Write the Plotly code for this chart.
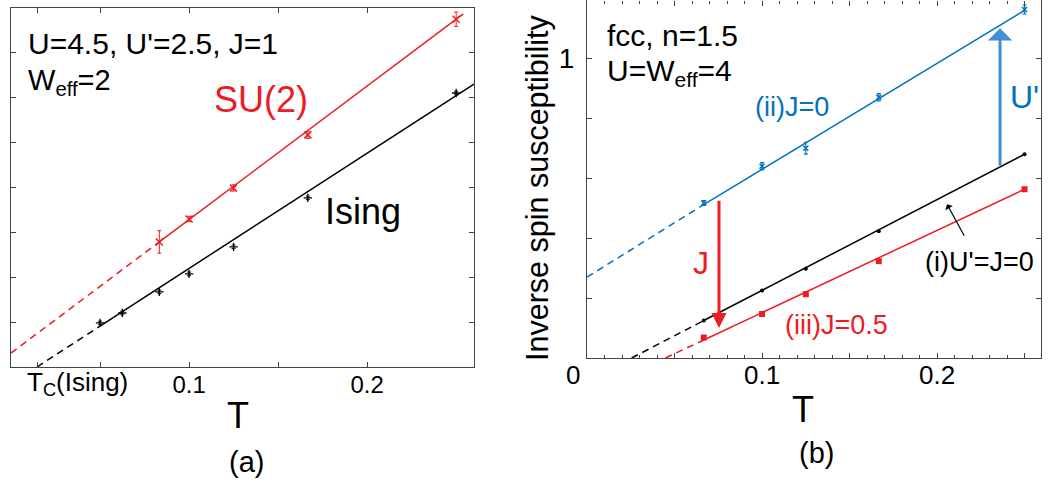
import plotly.graph_objects as go

# ---------------- Panel (a) data ----------------
T_a_su2 = [0.0833, 0.1, 0.125, 0.1667, 0.25]
chi_a_su2 = [0.278, 0.329, 0.398, 0.516, 0.773]
err_a_su2 = [0.025, 0.006, 0.007, 0.008, 0.016]

T_a_ising = [0.05, 0.0625, 0.0833, 0.1, 0.125, 0.1667, 0.25]
chi_a_ising = [0.098, 0.12, 0.167, 0.207, 0.267, 0.376, 0.609]
err_a_ising = [0.004, 0.004, 0.004, 0.004, 0.004, 0.004, 0.004]

fit_a_su2_dash_T = [0.0, 0.0833]
fit_a_su2_dash_v = [0.031, 0.278]
fit_a_su2_T = [0.0833, 0.254]
fit_a_su2_v = [0.278, 0.785]

Tc_ising = 0.0146
fit_a_ising_dash_T = [0.0146, 0.05]
fit_a_ising_dash_v = [0.0, 0.091]
fit_a_ising_T = [0.05, 0.26]
fit_a_ising_v = [0.091, 0.629]

# ---------------- Panel (b) data ----------------
T_b = [0.0667, 0.1, 0.125, 0.1667, 0.25]
chi_b_i = [0.125, 0.225, 0.298, 0.423, 0.68]
chi_b_ii = [0.517, 0.64, 0.70, 0.87, 1.163]
err_b_ii = [0.008, 0.012, 0.02, 0.012, 0.015]
chi_b_iii = [0.068, 0.147, 0.213, 0.323, 0.563]

fit_b_ii_dash_T = [0.0, 0.0667]
fit_b_ii_dash_v = [0.270, 0.512]
fit_b_ii_T = [0.0667, 0.25]
fit_b_ii_v = [0.512, 1.16]

fit_b_i_dash_T = [0.0255, 0.0667]
fit_b_i_dash_v = [0.0, 0.125]
fit_b_i_T = [0.0667, 0.25]
fit_b_i_v = [0.125, 0.68]

fit_b_iii_dash_T = [0.0448, 0.0667]
fit_b_iii_dash_v = [0.0, 0.06]
fit_b_iii_T = [0.0667, 0.25]
fit_b_iii_v = [0.06, 0.563]

RED = "#ed1c24"
BLUE = "#0072bd"
BLUE_ARROW = "#3f8fd2"
FONT = "Liberation Sans, Arial, sans-serif"
DASH = "7px,5px"

fig = go.Figure()

# ---- panel (a) traces ----
fig.add_trace(go.Scatter(x=fit_a_su2_dash_T, y=fit_a_su2_dash_v, mode="lines",
                         line=dict(color=RED, width=1.5, dash=DASH), xaxis="x", yaxis="y"))
fig.add_trace(go.Scatter(x=fit_a_su2_T, y=fit_a_su2_v, mode="lines",
                         line=dict(color=RED, width=1.5), xaxis="x", yaxis="y"))
fig.add_trace(go.Scatter(x=fit_a_ising_dash_T, y=fit_a_ising_dash_v, mode="lines",
                         line=dict(color="black", width=1.5, dash=DASH), xaxis="x", yaxis="y"))
fig.add_trace(go.Scatter(x=fit_a_ising_T, y=fit_a_ising_v, mode="lines",
                         line=dict(color="black", width=1.5), xaxis="x", yaxis="y"))
fig.add_trace(go.Scatter(x=T_a_su2, y=chi_a_su2, mode="markers",
                         marker=dict(symbol="x-thin", size=7, line=dict(color=RED, width=1.5)),
                         error_y=dict(type="data", array=err_a_su2, color=RED, thickness=1, width=2),
                         xaxis="x", yaxis="y"))
fig.add_trace(go.Scatter(x=T_a_ising, y=chi_a_ising, mode="markers",
                         marker=dict(symbol="cross-thin", size=6, line=dict(color="black", width=1.3)),
                         error_y=dict(type="data", array=err_a_ising, color="black", thickness=1, width=2),
                         xaxis="x", yaxis="y"))

# ---- panel (b) traces ----
for dT, dv, sT, sv, col in [
    (fit_b_ii_dash_T, fit_b_ii_dash_v, fit_b_ii_T, fit_b_ii_v, BLUE),
    (fit_b_i_dash_T, fit_b_i_dash_v, fit_b_i_T, fit_b_i_v, "black"),
    (fit_b_iii_dash_T, fit_b_iii_dash_v, fit_b_iii_T, fit_b_iii_v, RED),
]:
    fig.add_trace(go.Scatter(x=dT, y=dv, mode="lines", line=dict(color=col, width=1.5, dash=DASH),
                             xaxis="x2", yaxis="y2"))
    fig.add_trace(go.Scatter(x=sT, y=sv, mode="lines", line=dict(color=col, width=1.5),
                             xaxis="x2", yaxis="y2"))

fig.add_trace(go.Scatter(x=T_b, y=chi_b_ii, mode="markers",
                         marker=dict(symbol="x-thin", size=5, line=dict(color=BLUE, width=1.5)),
                         error_y=dict(type="data", array=err_b_ii, color=BLUE, thickness=1.2, width=2),
                         xaxis="x2", yaxis="y2"))
fig.add_trace(go.Scatter(x=T_b, y=chi_b_i, mode="markers",
                         marker=dict(symbol="circle", size=4, color="black"),
                         xaxis="x2", yaxis="y2"))
fig.add_trace(go.Scatter(x=T_b, y=chi_b_iii, mode="markers",
                         marker=dict(symbol="square", size=6, color=RED),
                         xaxis="x2", yaxis="y2"))

axis_common = dict(showline=True, linecolor="#444", linewidth=1.2, mirror="ticks",
                   ticks="inside", ticklen=5, tickcolor="#444", showgrid=False,
                   zeroline=False)

fig.update_layout(
    width=1053, height=487,
    margin=dict(l=0, r=0, t=0, b=0),
    paper_bgcolor="white", plot_bgcolor="white",
    showlegend=False,
    font=dict(family=FONT, color="black"),
    xaxis=dict(domain=[0.01045, 0.4501], range=[0, 0.26], anchor="y",
               tickvals=[Tc_ising, 0.05, 0.1, 0.15, 0.2],
               ticktext=["", "", "0.1", "", "0.2"], ticklabelstandoff=-4,
               tickfont=dict(family=FONT, size=24, color="black"), **axis_common),
    yaxis=dict(domain=[0.2464, 0.9836], range=[0, 0.798], anchor="x",
               tickvals=[0.1, 0.2, 0.3, 0.4, 0.5, 0.6, 0.7],
               showticklabels=False, **axis_common),
    xaxis2=dict(domain=[0.5575, 0.9886], range=[0, 0.2594], anchor="y2",
                tickvals=[0, 0.05, 0.1, 0.15, 0.2, 0.25],
                ticktext=["", "", "0.1", "", "0.2", ""], ticklabelstandoff=-6,
                tickfont=dict(family=FONT, size=26, color="black"),
                minor=dict(ticks="inside", dtick=0.01, tick0=0, ticklen=3, tickcolor="#444"),
                **axis_common),
    yaxis2=dict(domain=[0.2649, 0.999], range=[0, 1.193], anchor="x2",
                tickvals=[0.2, 0.4, 0.6, 0.8, 1.0],
                ticktext=["", "", "", "", "1"], ticklabelstandoff=6,
                tickfont=dict(family=FONT, size=28, color="black"), **axis_common),
)

ann = []
def txt(x, y, s, size, color="black", xref="x", yref="y", xanchor="left", yanchor="middle", angle=0):
    ann.append(dict(x=x, y=y, xref=xref, yref=yref, text=s, showarrow=False,
                    xanchor=xanchor, yanchor=yanchor, textangle=angle,
                    font=dict(family=FONT, size=size, color=color)))

# panel (a) texts
txt(0.0085, 0.72, "U=4.5, U'=2.5, J=1", 30)
txt(0.0085, 0.633, "W<sub>eff</sub>=2", 29)
txt(0.1129, 0.595, "SU(2)", 36, RED)
txt(0.1753, 0.345, "Ising", 36)
txt(77 / 1053, (487 - 383) / 487, "T<sub>C</sub>(Ising)", 26, xref="paper", yref="paper", xanchor="center")
txt(238 / 1053, (487 - 415) / 487, "T", 36, xref="paper", yref="paper", xanchor="center")
txt(246 / 1053, (487 - 462) / 487, "(a)", 29, xref="paper", yref="paper", xanchor="center")

# panel (b) texts
txt(0.010, 1.077, "fcc, n=1.5", 30, xref="x2", yref="y2")
txt(0.010, 0.953, "U=W<sub>eff</sub>=4", 30, xref="x2", yref="y2")
txt(0.1171, 0.837, "(ii)J=0", 27, BLUE, xref="x2", yref="y2", xanchor="center")
txt(0.192, 0.32, "(i)U'=J=0", 27, xref="x2", yref="y2")
txt(0.1121, 0.11, "(iii)J=0.5", 27, RED, xref="x2", yref="y2")
txt(0.0651, 0.317, "J", 32, RED, xref="x2", yref="y2", xanchor="center")
txt(0.2497, 0.87, "U'", 32, BLUE, xref="x2", yref="y2", xanchor="center")
txt(573 / 1053, (487 - 375) / 487, "0", 26, xref="paper", yref="paper", xanchor="center")
txt(803 / 1053, (487 - 410) / 487, "T", 36, xref="paper", yref="paper", xanchor="center")
txt(816 / 1053, (487 - 453) / 487, "(b)", 29, xref="paper", yref="paper", xanchor="center")
txt(538 / 1053, (487 - 188) / 487, "Inverse spin susceptibility", 30.5, xref="paper", yref="paper",
    xanchor="center", angle=-90)

# arrows in panel (b)
ann.append(dict(x=0.0754, y=0.10, ax=0.0754, ay=0.53, xref="x2", yref="y2", axref="x2", ayref="y2",
                showarrow=True, arrowhead=2, arrowsize=1.0, arrowwidth=3, arrowcolor=RED, text=""))
ann.append(dict(x=0.236, y=1.10, ax=0.236, ay=0.637, xref="x2", yref="y2", axref="x2", ayref="y2",
                showarrow=True, arrowhead=1, arrowsize=1.35, arrowwidth=3, arrowcolor=BLUE_ARROW, text=""))
ann.append(dict(x=0.2057, y=0.513, ax=0.216, ay=0.403, xref="x2", yref="y2", axref="x2", ayref="y2",
                showarrow=True, arrowhead=1, arrowsize=1.2, arrowwidth=1.2, arrowcolor="black", text=""))

fig.update_layout(annotations=ann)
fig.write_html("out.html", config={"displayModeBar": False},
               post_script="document.body.style.margin='0';")
